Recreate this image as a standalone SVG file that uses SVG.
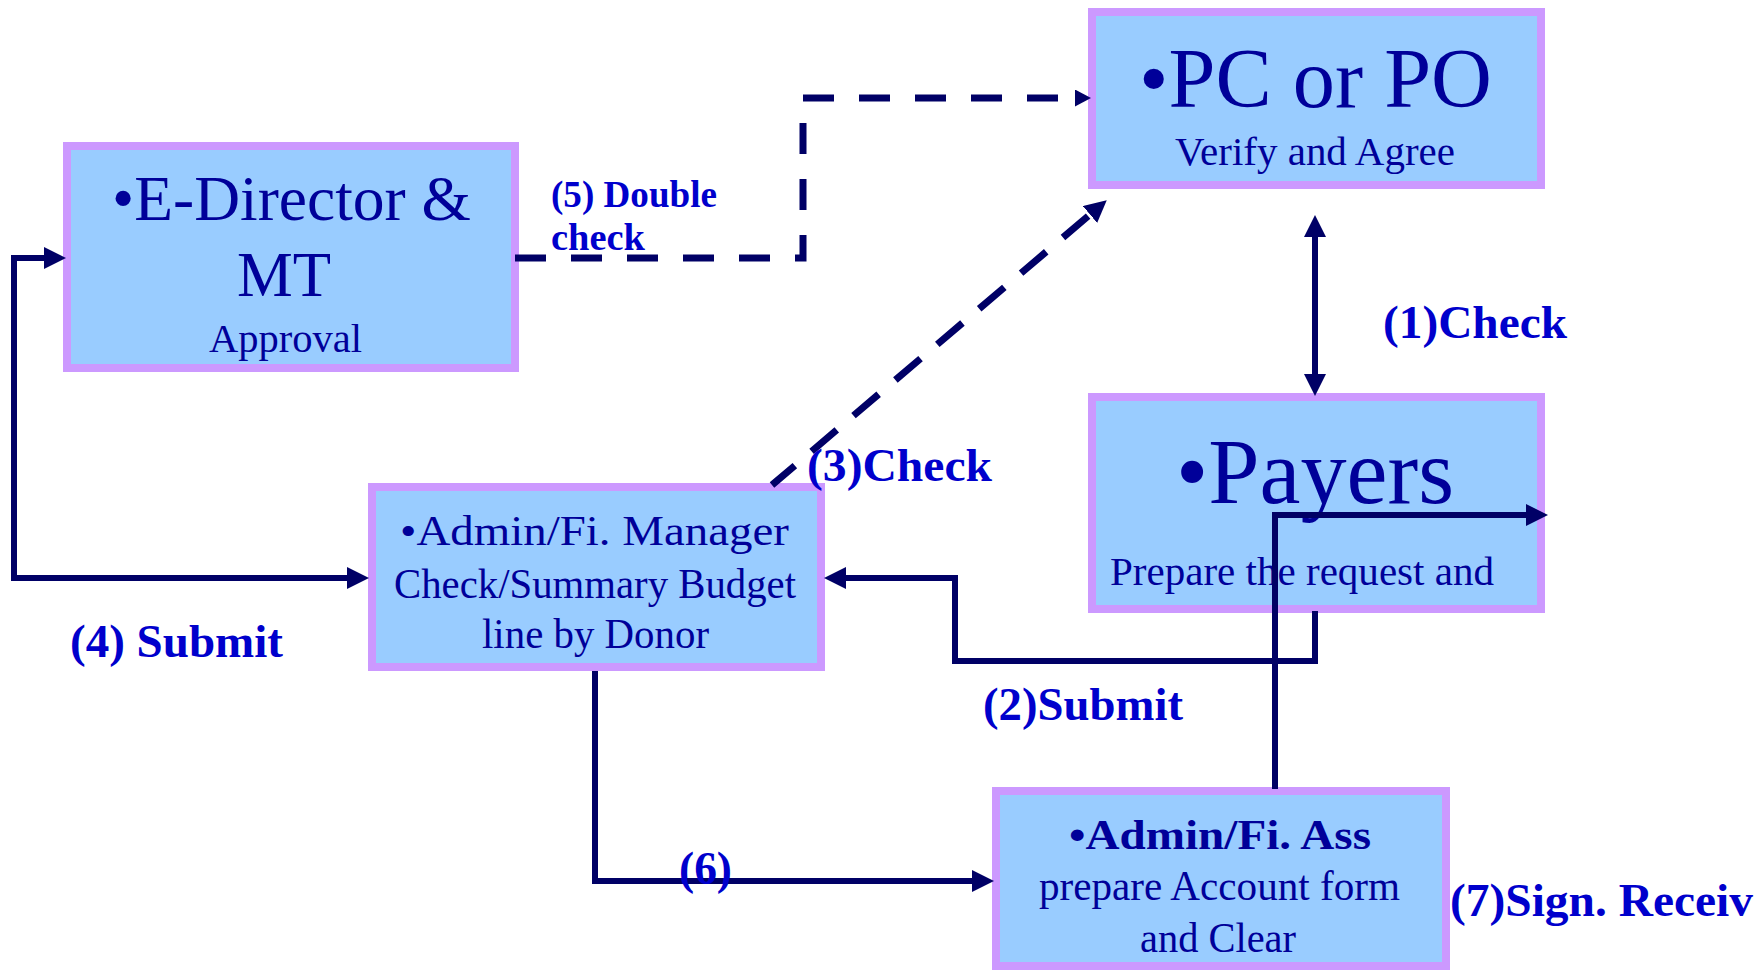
<svg xmlns="http://www.w3.org/2000/svg" width="1760" height="970" viewBox="0 0 1760 970">
<style>
.box{fill:#99CCFF;stroke:#CC99FF;stroke-width:8}
.t{font-family:"Liberation Serif","Times New Roman",serif;fill:#000099}
.b{font-weight:bold}
.lbl{font-family:"Liberation Serif","Times New Roman",serif;font-weight:bold;fill:#0000CC}
.ln{fill:none;stroke:#000066;stroke-width:6}
.dash{fill:none;stroke:#000066;stroke-width:7}
</style>
<defs>
<marker id="ah" markerUnits="userSpaceOnUse" markerWidth="24" markerHeight="24" refX="0" refY="11" orient="auto-start-reverse">
<path d="M0,0 L22,11 L0,22 Z" fill="#000066"/>
</marker>
<marker id="ahs" markerUnits="userSpaceOnUse" markerWidth="18" markerHeight="18" refX="0" refY="8.5" orient="auto">
<path d="M0,0 L16,8.5 L0,17 Z" fill="#000066"/>
</marker>
</defs>
<rect width="1760" height="970" fill="#FFFFFF"/>

<g id="node-edirector">
<rect class="box" x="67" y="146" width="448" height="222"/>
<text class="t" x="112" y="220" font-size="64" textLength="359" lengthAdjust="spacingAndGlyphs">•E-Director &amp;</text>
<text class="t" x="237" y="296" font-size="64" textLength="94" lengthAdjust="spacingAndGlyphs">MT</text>
<text class="t" x="209" y="352" font-size="40" textLength="153" lengthAdjust="spacingAndGlyphs">Approval</text>
</g>

<g id="node-pc">
<rect class="box" x="1092" y="12" width="449" height="173"/>
<text class="t" x="1139" y="107" font-size="85" textLength="353" lengthAdjust="spacingAndGlyphs">•PC or PO</text>
<text class="t" x="1175" y="165" font-size="40" textLength="280" lengthAdjust="spacingAndGlyphs">Verify and Agree</text>
</g>

<g id="node-payers">
<rect class="box" x="1092" y="397" width="449" height="212"/>
<text class="t" x="1176" y="503" font-size="94" textLength="278" lengthAdjust="spacingAndGlyphs">•Payers</text>
<text class="t" x="1110" y="585" font-size="41" textLength="384" lengthAdjust="spacingAndGlyphs">Prepare the request and</text>
</g>

<g id="node-admin-manager">
<rect class="box" x="372" y="487" width="449" height="180"/>
<text class="t" x="400" y="545" font-size="43" textLength="389" lengthAdjust="spacingAndGlyphs">•Admin/Fi. Manager</text>
<text class="t" x="394" y="598" font-size="43" textLength="402" lengthAdjust="spacingAndGlyphs">Check/Summary Budget</text>
<text class="t" x="482" y="648" font-size="42" textLength="227" lengthAdjust="spacingAndGlyphs">line by Donor</text>
</g>

<g id="node-admin-ass">
<rect class="box" x="996" y="791" width="450" height="175"/>
<text class="t b" x="1069" y="849" font-size="42" textLength="302" lengthAdjust="spacingAndGlyphs">•Admin/Fi. Ass</text>
<text class="t" x="1039" y="900" font-size="42" textLength="361" lengthAdjust="spacingAndGlyphs">prepare Account form</text>
<text class="t" x="1140" y="952" font-size="42" textLength="156" lengthAdjust="spacingAndGlyphs">and Clear</text>
</g>

<g id="connectors">
<path class="dash" d="M515,258 H803 V98 H1075" stroke-dasharray="31 25" marker-end="url(#ahs)"/>
<path class="dash" d="M772,485 L1090,214.5" stroke-dasharray="33 22" stroke-dashoffset="3" marker-end="url(#ah)"/>
<path class="ln" d="M1315,237 V374" marker-start="url(#ah)" marker-end="url(#ah)"/>
<path class="ln" d="M44,258 H14 V578 H347" marker-start="url(#ah)" marker-end="url(#ah)"/>
<path class="ln" d="M1315,611 V661 H955 V578 H846" marker-end="url(#ah)"/>
<path class="ln" d="M595,671 V881 H972" marker-end="url(#ah)"/>
<path class="ln" d="M1275,789 V515 H1526" marker-end="url(#ah)"/>
</g>

<g id="labels">
<text class="lbl" x="551" y="207" font-size="37" textLength="166" lengthAdjust="spacingAndGlyphs">(5) Double</text>
<text class="lbl" x="551" y="250" font-size="37" textLength="94" lengthAdjust="spacingAndGlyphs">check</text>
<text class="lbl" x="1383" y="338" font-size="47" textLength="184" lengthAdjust="spacingAndGlyphs">(1)Check</text>
<text class="lbl" x="807" y="481" font-size="47" textLength="185" lengthAdjust="spacingAndGlyphs">(3)Check</text>
<text class="lbl" x="70" y="657" font-size="47" textLength="213" lengthAdjust="spacingAndGlyphs">(4) Submit</text>
<text class="lbl" x="983" y="720" font-size="47" textLength="200" lengthAdjust="spacingAndGlyphs">(2)Submit</text>
<text class="lbl" x="679" y="884" font-size="46" textLength="53" lengthAdjust="spacingAndGlyphs">(6)</text>
<text class="lbl" x="1450" y="916" font-size="47" textLength="303" lengthAdjust="spacingAndGlyphs">(7)Sign. Receiv</text>
</g>
</svg>
